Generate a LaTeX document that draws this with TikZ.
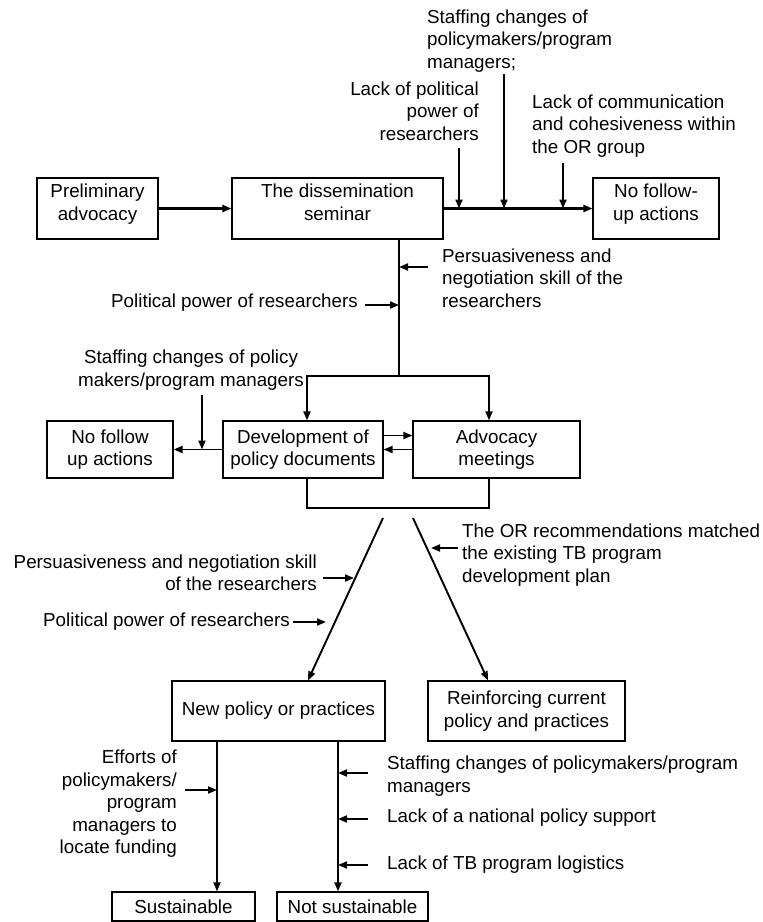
\documentclass[tikz,border=0pt]{standalone}
\usepackage{fontspec}
\setmainfont{Liberation Sans}
\usetikzlibrary{arrows.meta, positioning, calc}

\begin{document}
\begin{tikzpicture}[
        x=1pt, y=-1pt,
        font=\fontsize{18.8}{22.5}\selectfont,
        >={Triangle[length=9pt, width=7pt]},
        % styles
        baseBlock/.style={rectangle, draw=black, line width=1.2pt, align=center, inner sep=0pt},
        topBlock/.style={baseBlock, text depth=13pt, minimum height=61pt},
        % label styles
        lbl/.style={inner sep=0pt},
        lblL/.style={lbl, align=left, anchor=west},
        lblR/.style={lbl, align=right, anchor=east},
        % connector styles
        line/.style={line width=1.9pt},
        conn/.style={->, line width=1.9pt},
        connThick/.style={->, line width=2.7pt},
        inArrow/.style={->, line width=1.9pt}
    ]
    \useasboundingbox (0,0) rectangle (763,922);

    % nodes

    % row 1: seminar
    \node [topBlock, minimum width=121pt] (prelim) at (97.5,208.5) {Preliminary\\advocacy};
    \node [topBlock, minimum width=211pt] (seminar) at (337.5,208.5) {The dissemination\\seminar};
    \node [topBlock, minimum width=126pt] (noFollowTop) at (656,208.5) {No follow-\\up actions};

    % row 2: policy work
    \node [baseBlock, minimum width=126pt, minimum height=57pt] (noFollowMid) at (110,449.5) {No follow\\up actions};
    \node [baseBlock, minimum width=160pt, minimum height=57pt] (policyDocs) at (303,449.5) {Development of\\policy documents};
    \node [baseBlock, minimum width=167pt, minimum height=57pt] (advMeet) at (496.5,449.5) {Advocacy\\meetings};

    % row 3: outcome
    \node [baseBlock, minimum width=213pt, minimum height=60pt] (newPolicy) at (278.5,711) {New policy or practices};
    \node [baseBlock, minimum width=197pt, minimum height=60pt] (reinforce) at (526.5,711) {Reinforcing current\\policy and practices};

    % row 4: sustainability
    \node [baseBlock, minimum width=143pt, minimum height=29pt] (sustain) at (183.5,906.5) {Sustainable};
    \node [baseBlock, minimum width=151pt, minimum height=29pt] (notSustain) at (352.5,906.5) {Not sustainable};

    % factor labels
    \node [lblR] (lackPower) at (479,111) {Lack of political\\power of\\researchers};
    \node [lblL] (staffTop) at (427,41) {Staffing changes of\\policymakers/program\\managers;};
    \node [lblL] (lackComm) at (532,126) {Lack of communication\\and cohesiveness within\\the OR group};
    \node [lblL] (persuTop) at (442,278) {Persuasiveness and\\negotiation skill of the\\researchers};
    \node [lblR] (powerTop) at (358,303) {Political power of researchers};
    \node [lbl, align=center] (staffMid) at (191,370) {Staffing changes of policy\\makers/program managers};
    \node [lblR] (persuMid) at (317,573) {Persuasiveness and negotiation skill\\of the researchers};
    \node [lblR] (powerMid) at (290,622) {Political power of researchers};
    \node [lblL] (orMatch) at (462,555) {The OR recommendations matched\\the existing TB program\\development plan};
    \node [lblR] (efforts) at (177,804) {Efforts of\\policymakers/\\program\\managers to\\locate funding};
    \node [lblL] (staffBot) at (387,776) {Staffing changes of policymakers/program\\managers};
    \node [lblL] (lackNat) at (387,818) {Lack of a national policy support};
    \node [lblL] (lackTB) at (387,865) {Lack of TB program logistics};

    % coordinates
    \coordinate (inA) at (459,148);
    \coordinate (inB) at (504,74);
    \coordinate (inC) at (563,163);
    \coordinate (split) at (399,376);
    \coordinate (splitL) at (307,376);
    \coordinate (splitR) at (489,376);
    \coordinate (persuIn) at (428,267);
    \coordinate (powerIn) at (365,305);
    \coordinate (staffIn) at (202,395);
    \coordinate (merge) at (399,508);
    \coordinate (diagL) at (383,518);
    \coordinate (diagR) at (413,518);
    \coordinate (persuMidIn) at (323,578);
    \coordinate (persuMidOut) at (354,578);
    \coordinate (powerMidIn) at (293,622);
    \coordinate (powerMidOut) at (326,622);
    \coordinate (orIn) at (458,548);
    \coordinate (orOut) at (431,548);
    \coordinate (susX) at (217,741);
    \coordinate (notX) at (338,741);
    \coordinate (effIn) at (185,790);

    % connections

    % 1. seminar
    \draw [connThick] (prelim) -- (seminar);
    \draw [connThick] (seminar) -- (noFollowTop);
    \draw [inArrow] (inA) -- (inA |- seminar.east);
    \draw [inArrow] (inB) -- (inB |- seminar.east);
    \draw [inArrow] (inC) -- (inC |- seminar.east);

    % 2. towards policy work
    \draw [line] (seminar.south -| split) -- (split);
    \draw [conn] (split) -| (splitL |- policyDocs.north);
    \draw [conn] (split) -| (splitR |- advMeet.north);
    \draw [inArrow] (persuIn) -- (persuIn -| split);
    \draw [inArrow] (powerIn) -- (powerIn -| split);

    % 3. documents and meetings
    \draw [inArrow] ([yshift=14pt]policyDocs.east) -- ([yshift=14pt]advMeet.west);
    \draw [inArrow] (advMeet.west) -- (policyDocs.east);
    \draw [inArrow] (policyDocs.west) -- (noFollowMid.east);
    \draw [inArrow] (staffIn) -- (staffIn |- noFollowMid.east);
    \draw [line] (splitL |- policyDocs.south) -- (splitL |- merge) -- (splitR |- merge) -- (splitR |- advMeet.south);

    % 4. outcome
    \draw [conn] (diagL) -- ([xshift=29.5pt]newPolicy.north);
    \draw [conn] (diagR) -- ([xshift=-38.5pt]reinforce.north);
    \draw [inArrow] (persuMidIn) -- (persuMidOut);
    \draw [inArrow] (powerMidIn) -- (powerMidOut);
    \draw [inArrow] (orIn) -- (orOut);

    % 5. sustainability
    \draw [conn] (newPolicy.south -| susX) -- (sustain.north -| susX);
    \draw [conn] (newPolicy.south -| notX) -- (notSustain.north -| notX);
    \draw [inArrow] (effIn) -- (effIn -| susX);
    \draw [inArrow] (368,773) coordinate (notA) -- (notA -| notX);
    \draw [inArrow] (368,819) coordinate (notB) -- (notB -| notX);
    \draw [inArrow] (368,865) coordinate (notC) -- (notC -| notX);

\end{tikzpicture}
\end{document}
